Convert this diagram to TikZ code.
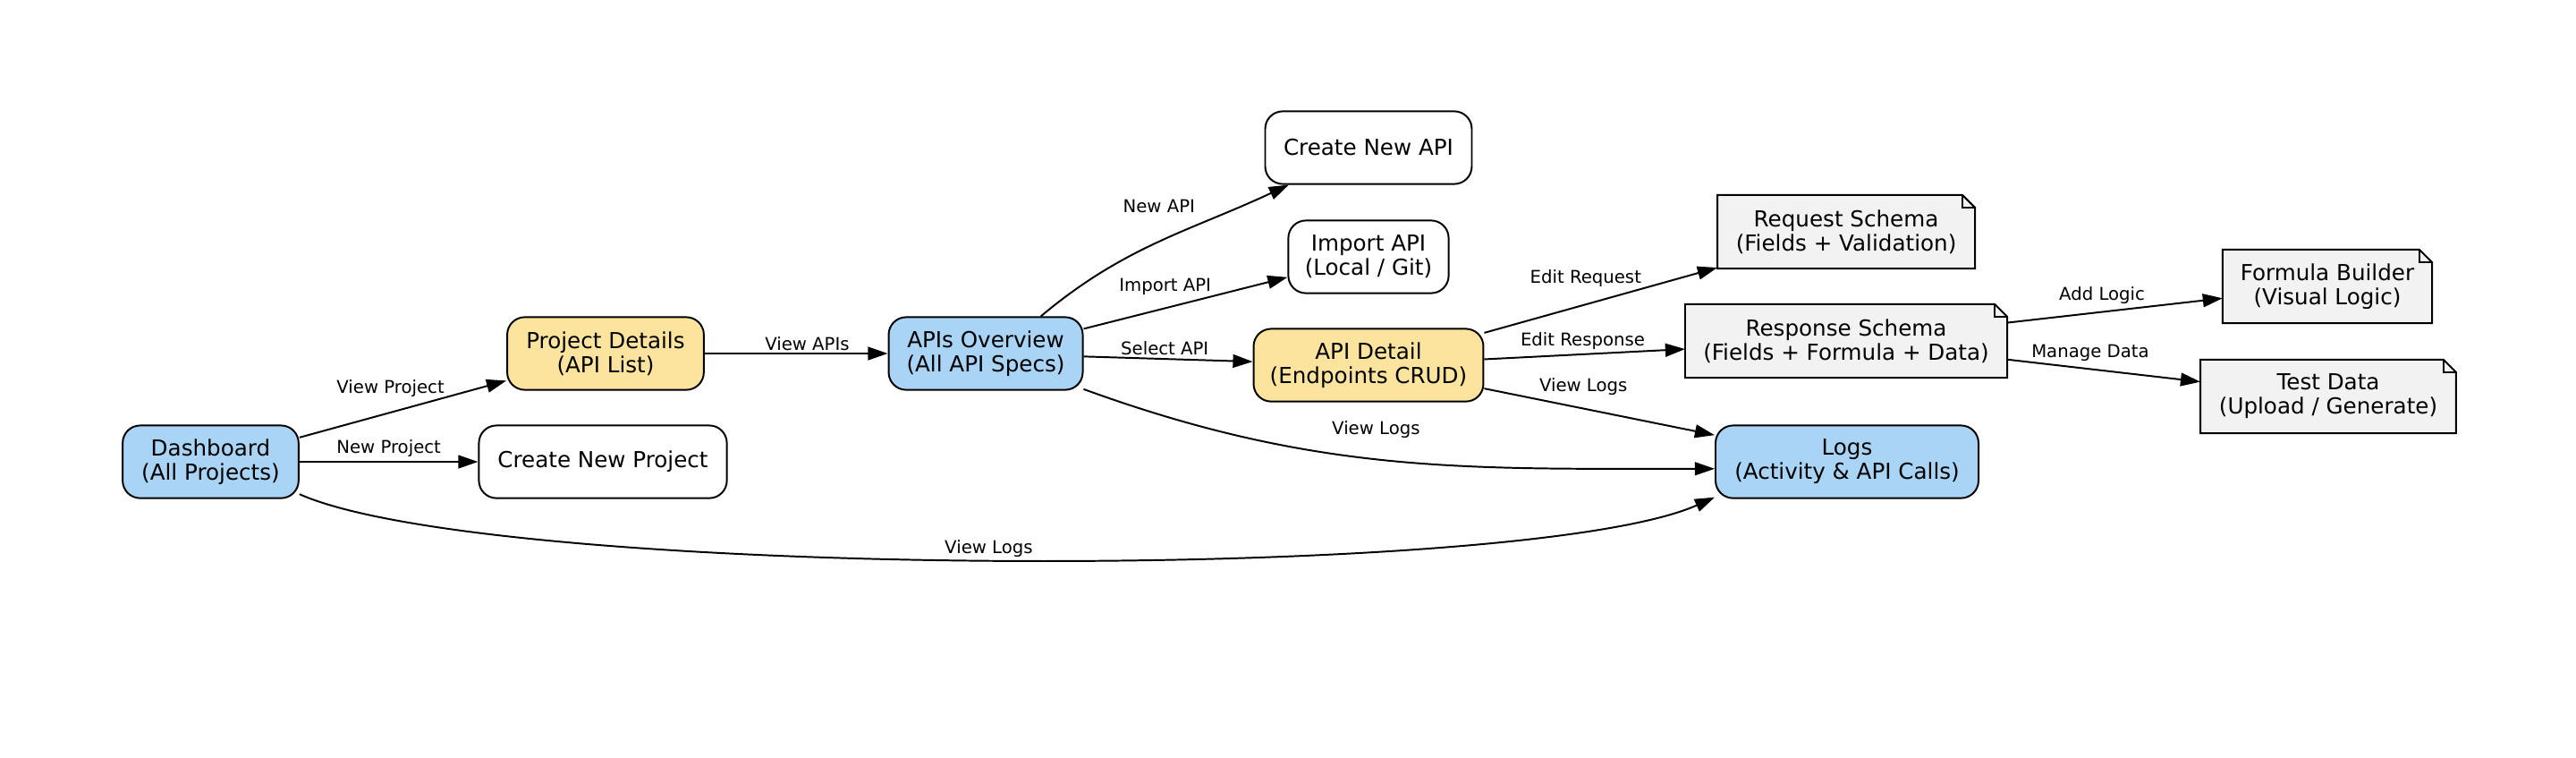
\documentclass[tikz,border=0pt]{standalone}
\usepackage{fontspec}
\setmainfont{DejaVu Sans}
\usetikzlibrary{arrows.meta,backgrounds}
\definecolor{pageblue}{HTML}{A9D4F5}
\definecolor{pageyellow}{HTML}{FDE49E}
\definecolor{notegray}{HTML}{F2F2F2}

\begin{document}
\begin{tikzpicture}[
    page/.style={draw, rounded corners=0.28cm, line width=0.8pt, align=center,
      minimum height=1.16cm, inner sep=2pt, font=\fontsize{10}{11}\selectfont},
    mainpage/.style={page, fill=pageblue},
    editpage/.style={page, fill=pageyellow},
    plainpage/.style={page, fill=white},
    notebox/.style={align=center, minimum height=1.16cm, inner sep=2pt,
      font=\fontsize{10}{11}\selectfont},
    flow/.style={-{Triangle[length=9pt,width=6pt]}, line width=0.8pt},
    lbl/.style={font=\fontsize{8}{9}\selectfont, inner sep=1pt}
  ]
  \useasboundingbox (0,0) rectangle (41.143,12.086);

  % pages
  \node (dashboard) [mainpage, minimum width=2.81cm] at (3.364,4.714) {Dashboard\\(All Projects)};
  \node (projdetails) [editpage, minimum width=3.14cm] at (9.671,6.443) {Project Details\\(API List)};
  \node (newproject) [plainpage, minimum width=3.96cm] at (9.629,4.714) {Create New Project};
  \node (apisoverview) [mainpage, minimum width=3.10cm] at (15.743,6.443) {APIs Overview\\(All API Specs)};
  \node (newapi) [plainpage, minimum width=3.30cm] at (21.857,9.729) {Create New API};
  \node (importapi) [plainpage, minimum width=2.56cm] at (21.857,7.986) {Import API\\(Local / Git)};
  \node (apidetail) [editpage, minimum width=3.67cm] at (21.857,6.257) {API Detail\\(Endpoints CRUD)};
  \node (logs) [mainpage, minimum width=4.20cm] at (29.5,4.714) {Logs\\(Activity \& API Calls)};

  % schema notes
  \node (reqschema) [notebox, minimum width=4.10cm] at (29.486,8.386) {Request Schema\\(Fields + Validation)};
  \node (respschema) [notebox, minimum width=5.13cm] at (29.486,6.643) {Response Schema\\(Fields + Formula + Data)};
  \node (formula) [notebox, minimum width=3.33cm] at (37.171,7.514) {Formula Builder\\(Visual Logic)};
  \node (testdata) [notebox, minimum width=4.07cm] at (37.186,5.757) {Test Data\\(Upload / Generate)};
  \begin{scope}[on background layer]
    \foreach \n in {reqschema,respschema,formula,testdata} {
      \draw [line width=0.8pt, fill=notegray] (\n.south west) -- (\n.north west)
        -- ([xshift=-0.2cm]\n.north east) -- ([yshift=-0.2cm]\n.north east)
        -- (\n.south east) -- cycle;
      \draw [line width=0.6pt] ([xshift=-0.2cm]\n.north east) -- ++(0,-0.2)
        -- ([yshift=-0.2cm]\n.north east);
    }
  \end{scope}

  % links
  \draw [flow] (dashboard) -- (projdetails) node (lviewproject) [lbl, pos=0.44, above=5.6pt] {View Project};
  \draw [flow] (dashboard) -- (newproject) node (lnewproject) [lbl, midway, above=1pt] {New Project};
  \draw [flow] (dashboard.-20) to[out=-24, in=204, looseness=0.38]
    node (lviewlogsa) [lbl, pos=0.49, above=0pt] {View Logs} (logs.195);
  \draw [flow] (projdetails) -- (apisoverview) node (lviewapis) [lbl, pos=0.56, above=0pt] {View APIs};
  \draw [flow] (apisoverview.34) to[out=40, in=205]
    node (lnewapi) [lbl, pos=0.5, above=11.5pt] {New API} (newapi.205);
  \draw [flow] (apisoverview) -- (importapi) node (limportapi) [lbl, pos=0.4, above=4.5pt] {Import API};
  \draw [flow] (apisoverview) -- (apidetail) node (lselectapi) [lbl, pos=0.48, above=0.5pt] {Select API};
  \draw [flow] (apisoverview.-20) to[out=-20, in=180]
    node (lviewlogsb) [lbl, pos=0.47, above=8pt] {View Logs} (logs.183);
  \draw [flow] (apidetail) -- (reqschema) node (leditreq) [lbl, pos=0.435, above=6.4pt] {Edit Request};
  \draw [flow] (apidetail) -- (respschema) node (leditresp) [lbl, pos=0.49, above=0.7pt] {Edit Response};
  \draw [flow] (apidetail) -- (logs) node (lviewlogsc) [lbl, pos=0.43, above=4.8pt] {View Logs};
  \draw [flow] (respschema) -- (formula) node (laddlogic) [lbl, pos=0.44, above=2.2pt] {Add Logic};
  \draw [flow] (respschema) -- (testdata) node (lmanagedata) [lbl, pos=0.43, above=2.1pt] {Manage Data};
\end{tikzpicture}
\end{document}
